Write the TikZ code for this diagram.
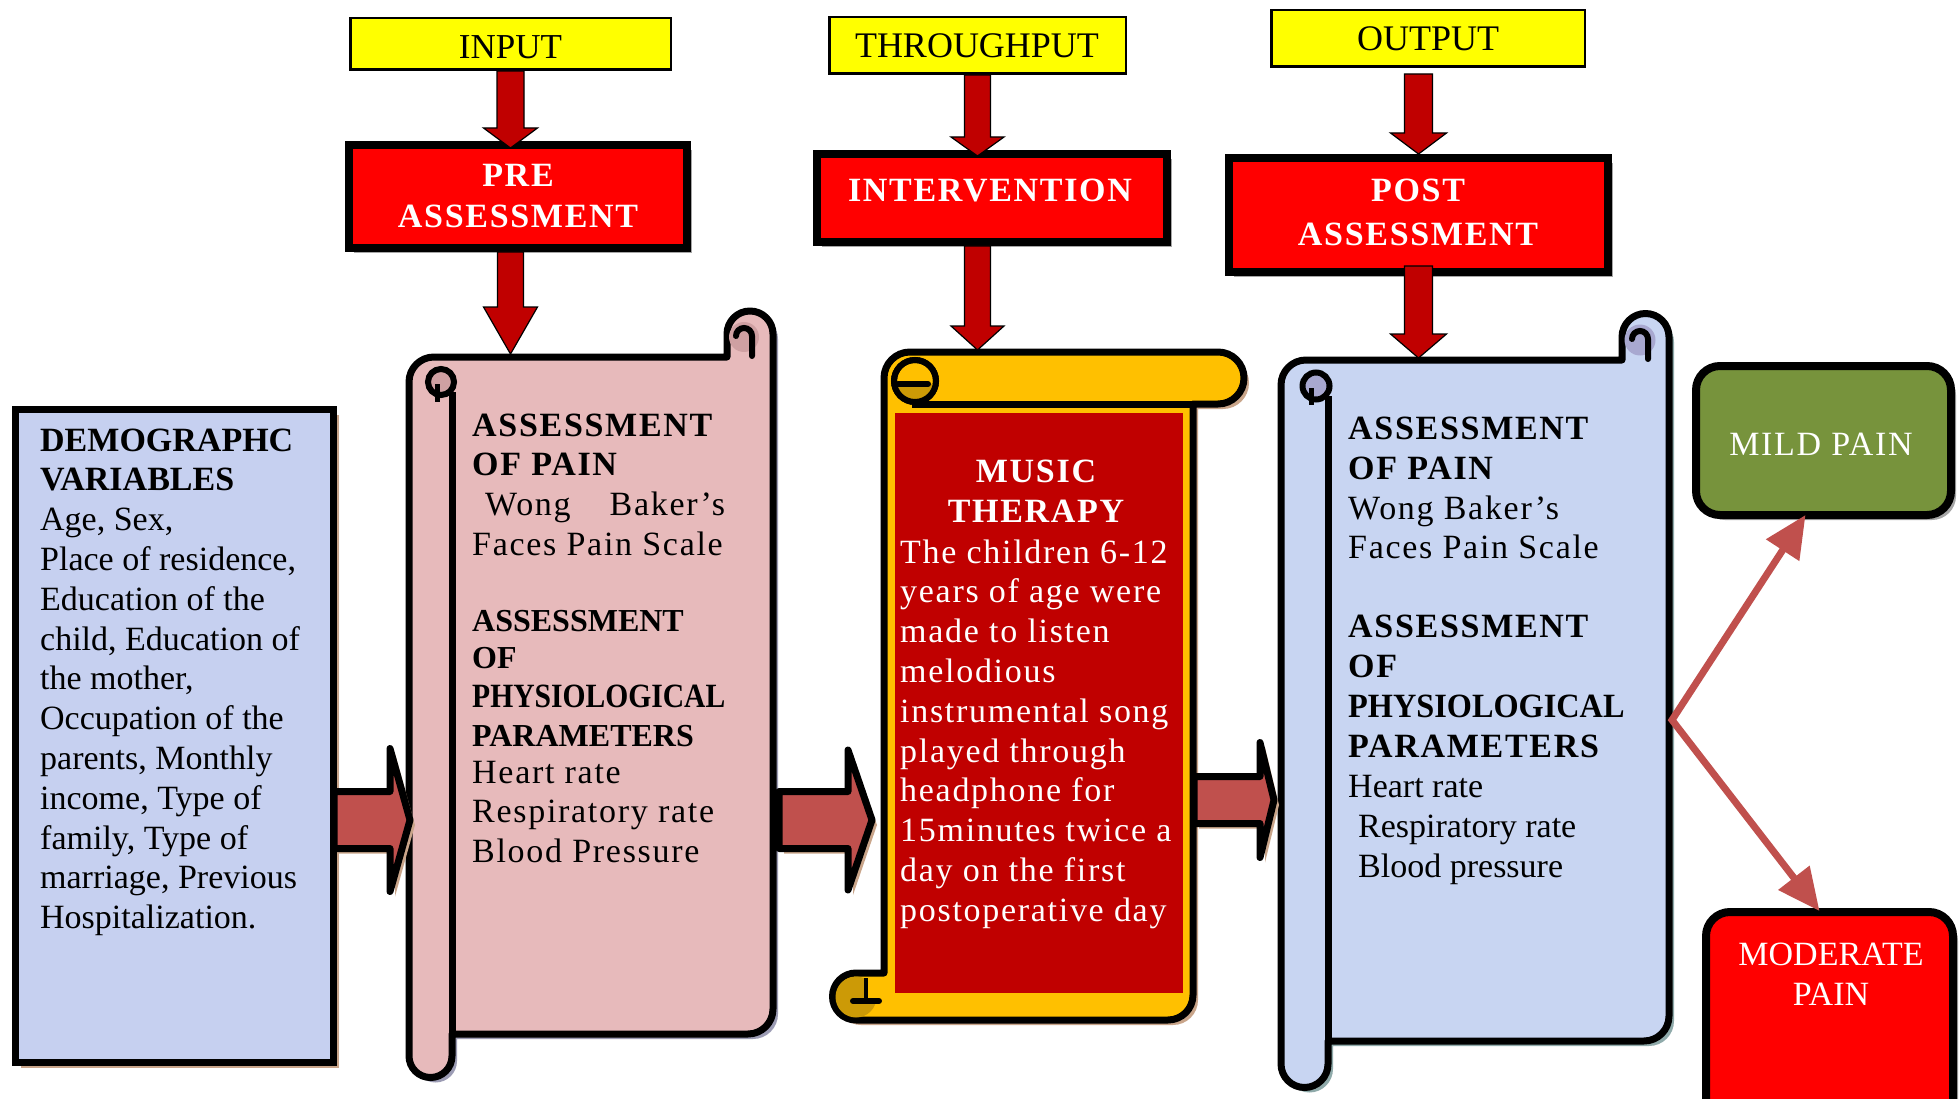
\documentclass[tikz,border=0pt]{standalone}
\usepackage{fontspec}
\usepackage{graphicx}
\setmainfont{Liberation Serif}
\newfontfamily\spc[LetterSpace=5]{Liberation Serif}
\usetikzlibrary{arrows.meta,calc,shadows}
\definecolor{hdryellow}{HTML}{FFFF00}
\definecolor{hdrred}{HTML}{FF0000}
\definecolor{arrdark}{HTML}{C00000}
\definecolor{blockred}{HTML}{C0504D}
\definecolor{demogfill}{HTML}{C6D0F0}
\definecolor{bluefill}{HTML}{C8D5F2}
\definecolor{bluecurl}{HTML}{A8A8D0}
\definecolor{pinkfill}{HTML}{E7BABB}
\definecolor{pinkcurl}{HTML}{CFA0A2}
\definecolor{yelfill}{HTML}{FFC000}
\definecolor{darkgold}{HTML}{CC9A06}
\definecolor{innerred}{HTML}{C00000}
\definecolor{mildgreen}{HTML}{77933C}
\definecolor{shgray}{HTML}{A6A6A6}
\definecolor{shbrown}{HTML}{C9A58A}
\definecolor{shviolet}{HTML}{9C9CB4}
\definecolor{shteal}{HTML}{8FAAAA}
\tikzset{
  shd/.style={drop shadow={shadow xshift=5pt,shadow yshift=-5pt,fill=#1,opacity=1}},
  hdrbox/.style={draw=black,line width=2.5pt,fill=hdryellow,inner sep=0pt},
  phasebox/.style={draw=black,line width=8pt,fill=hdrred,inner sep=0pt,shd=shgray},
  outcome/.style={draw=black,line width=8pt,rounded corners=24pt,inner sep=0pt,shd=shgray},
  scrl/.style={draw=black,line width=7pt,line join=round,shd=#1},
  blk/.style={draw=black,line width=7pt,line join=round,fill=blockred,shd=shbrown},
  vblk/.style={draw=black,line width=1.2pt,fill=arrdark,line join=miter},
  diag/.style={draw=blockred,line width=7pt,line join=miter,
    {Triangle[length=42pt,width=38pt]}-{Triangle[length=42pt,width=38pt]}},
  txt/.style={inner sep=0pt,anchor=base west,font=\fontsize{34}{40}\selectfont},
  ctxt/.style={inner sep=0pt,anchor=base,font=\fontsize{34}{40}\selectfont},
  htxt/.style={ctxt,text=white,font=\fontsize{34}{40}\selectfont\spc\bfseries},
  curlline/.style={line width=6pt,line cap=round},
}
\newcommand\vblock[5]{\draw[vblk] let \p1=(#1), \p2=(#2) in
  (\x1-#3,\y1) -- (\x1+#3,\y1) -- (\x1+#3,\y2+#5) -- (\x1+#4,\y2+#5) --
  (\x1,\y2) -- (\x1-#4,\y2+#5) -- (\x1-#3,\y2+#5) -- cycle;}
\newcommand\hblock[5]{\draw[blk] let \p1=(#1), \p2=(#2) in
  (\x1,\y2+#3) -- (\x2-#5,\y2+#3) -- (\x2-#5,\y2+#4) -- (\x2,\y2) --
  (\x2-#5,\y2-#4) -- (\x2-#5,\y2-#3) -- (\x1,\y2-#3) -- cycle;}
\newcommand\txtline[4]{\node[txt] (#1) at (#2,#3) {#4};}
\begin{document}
\begin{tikzpicture}[x=1pt,y=-1pt]
\useasboundingbox (0,0) rectangle (1959,1099);
\clip (0,0) rectangle (1959,1099);
\fill[white] (0,0) rectangle (1959,1099);

% ---------- header boxes
\node[hdrbox,minimum width=320.5pt,minimum height=51.5pt] (input) at (510.5,44) {};
\node[hdrbox,minimum width=296.5pt,minimum height=56.5pt] (thru) at (977.5,45.5) {};
\node[hdrbox,minimum width=313.5pt,minimum height=56.5pt] (output) at (1428,38.5) {};
\node[ctxt,font=\fontsize{35}{40}\selectfont] (inputt) at (510.5,59) {INPUT};
\node[ctxt,font=\fontsize{36}{40}\selectfont] (thrut) at (977,58) {THROUGHPUT};
\node[ctxt,font=\fontsize{36}{40}\selectfont] (outputt) at (1428,51) {OUTPUT};

\node[phasebox,minimum width=338pt,minimum height=103pt] (pre) at (518,196.5) {};
\node[phasebox,minimum width=350pt,minimum height=88pt] (inter) at (992,198) {};
\node[phasebox,minimum width=379pt,minimum height=114pt] (post) at (1418.5,215) {};
\node[htxt] (pret1) at (518,187) {PRE};
\node[htxt] (pret2) at (518,228) {ASSESSMENT};
\node[htxt] (intert) at (990,202) {INTERVENTION};
\node[htxt] (postt1) at (1418,202) {POST};
\node[htxt] (postt2) at (1418,246) {ASSESSMENT};

% ---------- demographic box
\node[draw=black,line width=7pt,fill=demogfill,minimum width=318pt,minimum height=653pt,
  inner sep=0pt,shd=shbrown] (demog) at (174.5,736) {};

% ---------- pink scroll
\draw[scrl=shviolet,fill=pinkfill] (452,1034) -- (748,1034)
  arc[start angle=90,end angle=0,radius=25] -- (773,334)
  arc[start angle=0,end angle=-180,radius=23] -- (727,357) -- (434,357)
  arc[start angle=270,end angle=180,radius=25] -- (409,1056)
  arc[start angle=180,end angle=0,radius=21.5] -- cycle;
\draw[line width=7pt] (452,392) -- (452,1034);
\draw[line width=6pt,fill=pinkcurl] (441,382) circle[radius=13];
\draw[line width=5pt] (437,384) -- (437,402);
\fill[pinkcurl] (744,337) circle[radius=15];
\draw[curlline] (736,336) arc[start angle=180,end angle=360,radius=8] -- (752,356);

% ---------- yellow scroll
\draw[scrl=shbrown,fill=yelfill] (884,378) arc[start angle=180,end angle=270,radius=26]
  -- (1218,352) arc[start angle=270,end angle=450,radius=26] -- (1193,404)
  -- (1193,995) arc[start angle=0,end angle=90,radius=25] -- (856,1020)
  arc[start angle=90,end angle=270,radius=23.5] -- (884,973) -- cycle;
\draw[line width=7pt] (912,404) -- (1193,404);
\fill[innerred] (895,413) rectangle (1183,993);
\draw[line width=6pt,fill=yelfill] (915,381) circle[radius=21];
\fill[darkgold] (897,384) arc[start angle=180,end angle=0,radius=18] -- cycle;
\draw[line width=6pt] (915,381) circle[radius=21];
\draw[curlline] (898,384) -- (928,384);
\fill[darkgold] (856,997) circle[radius=20.5];
\fill[yelfill] (866,977) rectangle (881,999);
\draw[line width=4pt] (866,978) -- (866,999);
\draw[curlline] (853,1001) -- (879,1001);

% ---------- blue scroll
\draw[scrl=shteal,fill=bluefill] (1328,1041) -- (1644,1041)
  arc[start angle=90,end angle=0,radius=25] -- (1669,337)
  arc[start angle=0,end angle=-180,radius=23.5] -- (1622,360) -- (1306,360)
  arc[start angle=270,end angle=180,radius=25] -- (1281,1064)
  arc[start angle=180,end angle=0,radius=23.5] -- cycle;
\draw[line width=7pt] (1328,396) -- (1328,1041);
\draw[line width=6pt,fill=bluecurl] (1316,386) circle[radius=13.5];
\draw[line width=5pt] (1311,388) -- (1311,405);
\fill[bluecurl] (1640,340) circle[radius=15.5];
\draw[curlline] (1632,339) arc[start angle=180,end angle=360,radius=8] -- (1648,359);

% ---------- outcome boxes
\node[outcome,fill=mildgreen,minimum width=255pt,minimum height=149pt] (mild) at (1823.5,440.5) {};
\node[outcome,fill=hdrred,minimum width=247pt,minimum height=214pt] (mod) at (1829.5,1019) {};
\node[ctxt,text=white,font=\fontsize{34}{40}\selectfont\spc] (mildt) at (1821,455) {MILD PAIN};
\node[ctxt,text=white] (modt1) at (1831,965) {MODERATE};
\node[ctxt,text=white] (modt2) at (1831,1005) {PAIN};

% ---------- coordinates for connectors
\coordinate (pinktop) at (509,354);
\coordinate (yeltop) at (975,350);
\coordinate (bluetop) at (1419,358);
\coordinate (pinkW) at (410,820);
\coordinate (pinkE) at (779,820);
\coordinate (yelW) at (872,820);
\coordinate (yelE) at (1194,800);
\coordinate (blueW) at (1274,800);
\coordinate (blueE) at (1672,720);

% ---------- vertical arrows
\vblock{input.south}{$(pre.north -| input.south)+(0,7)$}{13.5pt}{27pt}{20pt}
\vblock{pre.south -| input.south}{pinktop}{13pt}{27pt}{47pt}
\vblock{thru.south}{$(inter.north -| thru.south)+(0,6)$}{13pt}{26.5pt}{19pt}
\vblock{inter.south -| thru.south}{yeltop}{13pt}{26.5pt}{24pt}
\vblock{$(output.south -| post.north)+(0,6)$}{post.north}{14pt}{28pt}{21pt}
\vblock{$(post.south)+(0,-10)$}{bluetop}{14pt}{28pt}{24pt}

% ---------- block arrows
\hblock{$(demog.east |- pinkW)+(-3,0)$}{pinkW}{28.5pt}{71.5pt}{20pt}
\hblock{pinkE}{yelW}{28.5pt}{70pt}{24pt}
\hblock{yelE}{blueW}{23.5pt}{57.5pt}{14pt}

% ---------- diagonal arrows
\draw[diag] ([xshift=-18pt,yshift=4pt]mild.south) -- (blueE) -- ([xshift=-10pt,yshift=-3pt]mod.north);

% ---------- texts
\foreach \t [count=\i from 0] in {{\bfseries DEMOGRAPHC},{\bfseries VARIABLES},{Age, Sex,},{Place of residence,},{Education of the},{child, Education of},{the mother,},{Occupation of the},{parents, Monthly},{income, Type of},{family, Type of},{marriage, Previous},{Hospitalization.}}
  \node[txt] (dem\i) at (40,{451+39.8*\i}) {\t};

\txtline{pk1}{472}{436}{\spc\bfseries ASSESSMENT}
\txtline{pk2}{472}{475}{\spc\bfseries OF PAIN}
\txtline{pk3}{485}{515}{\spc Wong\hspace{39pt}Baker’s}
\txtline{pk4}{472}{555}{\spc Faces Pain Scale}
\txtline{pk5}{472}{631}{\fontsize{32}{40}\selectfont\bfseries ASSESSMENT}
\txtline{pk6}{472}{668}{\fontsize{32}{40}\selectfont\bfseries OF}
\txtline{pk7}{472}{707}{\bfseries\scalebox{0.87}[1]{PHYSIOLOGICAL}}
\txtline{pk8}{472}{746}{\fontsize{32}{40}\selectfont\bfseries PARAMETERS}
\txtline{pk9}{472}{783}{\spc Heart rate}
\txtline{pk10}{472}{822}{\spc Respiratory rate}
\txtline{pk11}{472}{862}{\spc Blood Pressure}

\node[htxt] (mus1) at (1036,482) {MUSIC};
\node[htxt] (mus2) at (1036,522) {THERAPY};
\foreach \t [count=\i from 0] in {The children 6-12,years of age were,made to listen,melodious,instrumental song,played through,headphone for,15minutes twice a,day on the first,postoperative day}
  \node[txt,text=white,font=\fontsize{34}{40}\selectfont\spc] (yl\i) at (900,{563+39.8*\i}) {\t};

\txtline{bl1}{1348}{439}{\spc\bfseries ASSESSMENT}
\txtline{bl2}{1348}{479}{\spc\bfseries OF PAIN}
\txtline{bl3}{1348}{519}{\spc Wong Baker’s}
\txtline{bl4}{1348}{558}{\spc Faces Pain Scale}
\txtline{bl5}{1348}{637}{\spc\bfseries ASSESSMENT}
\txtline{bl6}{1348}{677}{\spc\bfseries OF}
\txtline{bl7}{1348}{717}{\bfseries\scalebox{0.95}[1]{PHYSIOLOGICAL}}
\txtline{bl8}{1348}{757}{\spc\bfseries PARAMETERS}
\txtline{bl9}{1348}{797}{Heart rate}
\txtline{bl10}{1358}{837}{Respiratory rate}
\txtline{bl11}{1358}{877}{Blood pressure}
\end{tikzpicture}
\end{document}
